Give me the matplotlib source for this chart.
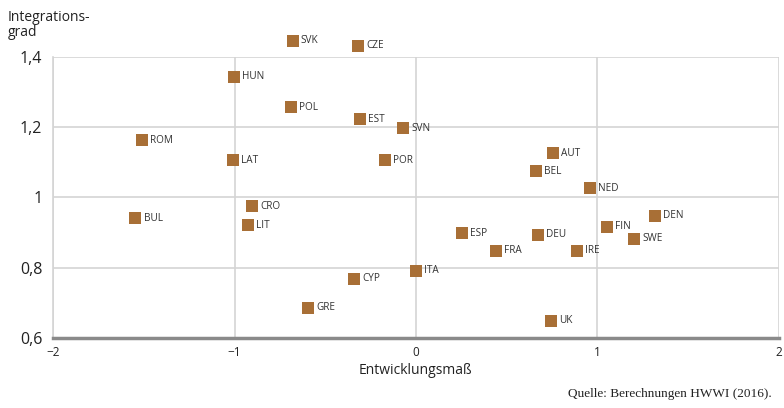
import matplotlib
matplotlib.use("Agg")
from matplotlib import pyplot as plt

plt.rcParams['font.family'] = ['Open Sans', 'DejaVu Sans']

countries = ['SVK', 'CZE', 'HUN', 'POL', 'EST', 'SVN', 'ROM', 'LAT', 'POR',
             'AUT', 'BEL', 'NED', 'DEN', 'FIN', 'SWE', 'ESP', 'DEU', 'FRA',
             'IRE', 'ITA', 'UK', 'CRO', 'LIT', 'BUL', 'CYP', 'GRE']
entwicklung = [-0.68, -0.32, -1.005, -0.69, -0.31, -0.073, -1.512, -1.01, -0.17,
               0.754, 0.661, 0.958, 1.317, 1.052, 1.201, 0.253, 0.672, 0.44,
               0.887, 0.0, 0.743, -0.905, -0.927, -1.547, -0.343, -0.597]
integration = [1.445, 1.431, 1.343, 1.256, 1.222, 1.196, 1.162, 1.105, 1.105,
               1.125, 1.074, 1.026, 0.947, 0.916, 0.882, 0.897, 0.893, 0.848,
               0.848, 0.791, 0.649, 0.975, 0.921, 0.941, 0.768, 0.686]

xticks = [-2, -1, 0, 1, 2]
xticklabels = ['\u22122', '\u22121', '0', '1', '2']
yticks = [0.6, 0.8, 1.0, 1.2, 1.4]
yticklabels = ['0,6', '0,8', '1', '1,2', '1,4']

fig = plt.figure(figsize=(7.84, 4.08), dpi=100)
ax = fig.add_axes([0.068, 0.172, 0.925, 0.689])

ax.scatter(entwicklung, integration, marker='s', s=68, color='#a86f36',
           linewidths=0, zorder=3, clip_on=False)
for name, x, y in zip(countries, entwicklung, integration):
    ax.annotate(name, (x, y), xytext=(6, 0), textcoords='offset points',
                ha='left', va='center', fontsize=7.2, color='#333333',
                annotation_clip=False)

ax.set_xlim(-2, 2)
ax.set_ylim(0.6, 1.4)
ax.set_xticks(xticks)
ax.set_xticklabels(xticklabels, fontsize=8.5, color='#222222')
ax.set_yticks(yticks)
ax.set_yticklabels(yticklabels, fontsize=11.5, color='#222222')
ax.tick_params(length=0, pad=8)
ax.tick_params(axis='x', pad=6)

ax.grid(True, color='#d4d4d4', linewidth=1.2)
ax.set_axisbelow(True)
for side in ['top', 'right']:
    ax.spines[side].set_visible(False)
ax.spines['left'].set_color('#d4d4d4')
ax.spines['left'].set_linewidth(1.2)
ax.spines['bottom'].set_color('#8a8a8a')
ax.spines['bottom'].set_linewidth(2.5)

ax.set_xlabel('Entwicklungsmaß', fontsize=10, color='#222222', labelpad=3)
fig.text(0.01, 0.975, 'Integrations-\ngrad', ha='left', va='top',
         fontsize=10, color='#222222', linespacing=0.95)
fig.text(0.985, 0.02, 'Quelle: Berechnungen HWWI (2016).', ha='right',
         va='bottom', fontsize=9.5, color='#222222', family='Liberation Serif')

fig.savefig('out.png', dpi=100)
